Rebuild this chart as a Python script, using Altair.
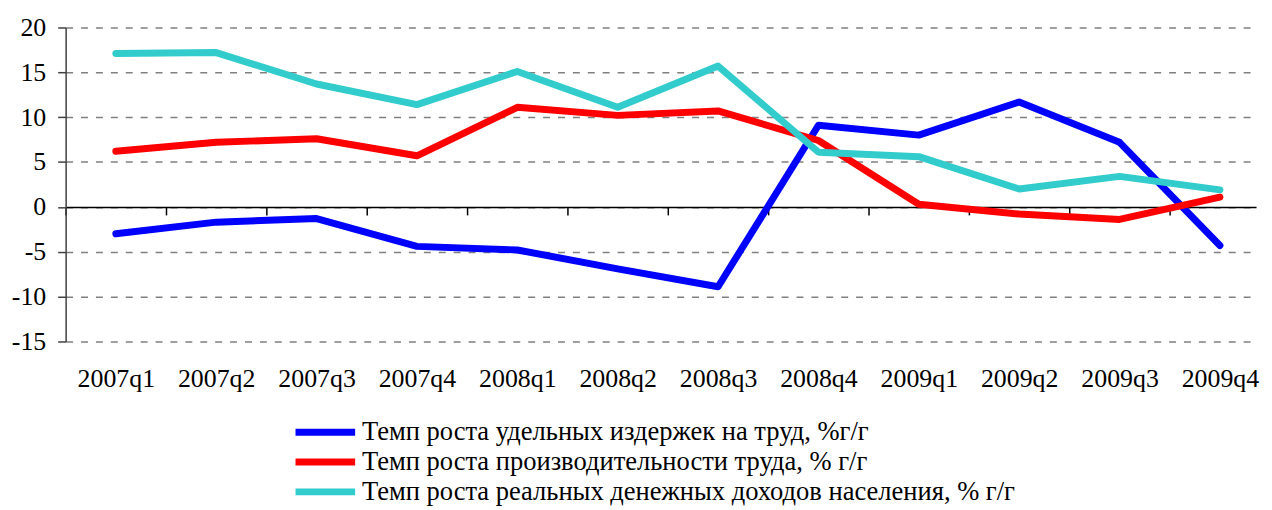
import altair as alt
import pandas as pd

quarters = ["2007q1", "2007q2", "2007q3", "2007q4",
            "2008q1", "2008q2", "2008q3", "2008q4",
            "2009q1", "2009q2", "2009q3", "2009q4"]
series_names = [
    "Темп роста удельных издержек на труд, %г/г",
    "Темп роста производительности труда, % г/г",
    "Темп роста реальных денежных доходов населения, % г/г",
]
labour_cost = [-3.0, -1.7, -1.3, -4.4, -4.8, -6.9, -8.9, 9.1, 8.0, 11.7, 7.2, -4.3]
productivity = [6.2, 7.2, 7.6, 5.7, 11.1, 10.2, 10.7, 7.4, 0.3, -0.8, -1.4, 1.1]
income = [17.1, 17.2, 13.7, 11.4, 15.1, 11.1, 15.7, 6.1, 5.6, 2.0, 3.4, 1.9]
colors = ["#0000FF", "#FF0000", "#33CCCC"]

rows = []
for name, vals in zip(series_names, [labour_cost, productivity, income]):
    for i, (q, v) in enumerate(zip(quarters, vals)):
        rows.append({"i": i, "q": q, "series": name, "value": v})
df = pd.DataFrame(rows)

FONT = "Liberation Serif"
label_expr = "[" + ",".join(f"'{q}'" for q in quarters) + "][datum.value]"

xscale = alt.Scale(domain=[-0.5, 11.36], nice=False, zero=False)
yscale = alt.Scale(domain=[-15, 20], nice=False)

y_axis = alt.Axis(values=[-15, -10, -5, 0, 5, 10, 15, 20], title=None,
                  labelExpr="toString(datum.value)",
                  labelFont=FONT, labelFontSize=26, labelColor="#000000",
                  tickSize=8, tickColor="#404040", domainColor="#404040",
                  domainWidth=1.5, tickWidth=1.5, labelPadding=12,
                  grid=True, gridColor="#808080", gridDash=[7, 8], gridWidth=1.5)

lines = alt.Chart(df).mark_line(strokeWidth=7, strokeCap="round", strokeJoin="round").encode(
    x=alt.X("i:Q", scale=xscale,
            axis=alt.Axis(values=list(range(12)), labelExpr=label_expr, ticks=False,
                          tickSize=0, domain=False, grid=False, title=None,
                          labelFont=FONT, labelFontSize=26, labelColor="#000000",
                          labelPadding=24, labelFlush=False, labelOverlap=False)),
    y=alt.Y("value:Q", scale=yscale, axis=y_axis),
    color=alt.Color("series:N", scale=alt.Scale(domain=series_names, range=colors),
                    sort=series_names,
                    legend=alt.Legend(orient="none", legendX=248, legendY=394, title=None,
                                      symbolType="M-4,0H4", symbolSize=225,
                                      symbolStrokeWidth=7, labelFont=FONT,
                                      labelFontSize=26.7, labelColor="#000000",
                                      labelOffset=23.5, rowPadding=1, labelLimit=1000)),
    order=alt.Order("i:Q"),
)

zero_df = pd.DataFrame({"i": [-0.5, 11.36], "value": [0, 0]})
zero_axis = alt.Chart(zero_df).mark_point(opacity=0).encode(
    x=alt.X("i:Q", scale=xscale,
            axis=alt.Axis(orient="bottom", offset=-135.4,
                          values=[k - 0.5 for k in range(12)], labels=False,
                          tickSize=8, tickColor="#000000", tickWidth=1.5,
                          domainColor="#000000", domainWidth=1.5, grid=False, title=None)),
    y=alt.Y("value:Q", scale=yscale, axis=y_axis),
)

chart = alt.layer(lines, zero_axis).resolve_axis(x="independent").properties(
    width=1198, height=316,
    autosize=alt.AutoSizeParams(type="none"),
    padding={"left": 58, "top": 18, "right": 8, "bottom": 168},
    background="white",
).configure_view(stroke=None).configure_axis(labelFont=FONT, labelFontSize=26)

chart.save("out.html", embed_options={"renderer": "svg", "actions": False})
